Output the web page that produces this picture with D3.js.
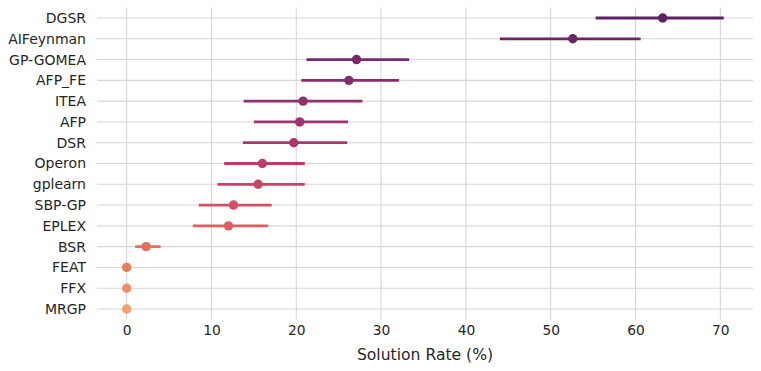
<!DOCTYPE html>
<html><head><meta charset="utf-8">
<script src="https://cdn.jsdelivr.net/npm/d3@7"></script>
<style>body{margin:0;background:#fff;} text{font-family:"DejaVu Sans",sans-serif;fill:#262626;}</style>
</head><body>
<svg id="c" width="761" height="371"></svg>
<script>
const categories = ["DGSR","AIFeynman","GP-GOMEA","AFP_FE","ITEA","AFP","DSR","Operon","gplearn","SBP-GP","EPLEX","BSR","FEAT","FFX","MRGP"];
const means   = [63.2, 52.6, 27.1, 26.2, 20.8, 20.4, 19.7, 16.0, 15.5, 12.6, 12.0, 2.3, 0.0, 0.0, 0.0];
const ciLow   = [55.3, 44.0, 21.2, 20.6, 13.8, 15.0, 13.7, 11.5, 10.7, 8.5, 7.8, 1.0, 0.0, 0.0, 0.0];
const ciHigh  = [70.4, 60.6, 33.3, 32.1, 27.8, 26.1, 26.0, 21.0, 21.0, 17.1, 16.7, 4.0, 0.0, 0.0, 0.0];
const xTicks  = [0, 10, 20, 30, 40, 50, 60, 70];
const xLabel  = "Solution Rate (%)";
const palette = ["#5c2263","#6a2667","#78296a","#862c6c","#942f6d","#a1326e","#af356d","#bd3a6b","#c94366","#d44f62","#de5e5f","#e46f5d","#e8805f","#eb9166","#eea273"];

const svg = d3.select("#c");
const m = {left: 97, right: 753, top: 7.6, bottom: 319.4};
const x = d3.scaleLinear().domain([-3.5, 73.85]).range([m.left, m.right]);
const y = d3.scalePoint().domain(categories).range([18, 309]);

// grid
svg.append("g").selectAll("line.v").data(xTicks).join("line")
  .attr("x1", d => x(d)).attr("x2", d => x(d)).attr("y1", m.top).attr("y2", m.bottom)
  .attr("stroke", "#d6d6d6").attr("stroke-width", 1.1);
svg.append("g").selectAll("line.h").data(categories).join("line")
  .attr("x1", m.left).attr("x2", m.right).attr("y1", d => y(d)).attr("y2", d => y(d))
  .attr("stroke", "#d6d6d6").attr("stroke-width", 1.1);

// axes
const xa = svg.append("g").attr("transform", `translate(0,${m.bottom})`)
  .call(d3.axisBottom(x).tickValues(xTicks).tickSize(0).tickPadding(6));
xa.select(".domain").remove();
xa.selectAll("text").attr("font-size", 13.8).style("font-family", "DejaVu Sans").attr("fill", "#262626");
const ya = svg.append("g").attr("transform", `translate(${m.left},0)`)
  .call(d3.axisLeft(y).tickSize(0).tickPadding(11));
ya.select(".domain").remove();
ya.selectAll("text").attr("font-size", 14).style("font-family", "DejaVu Sans").attr("fill", "#262626");

svg.append("text").attr("x", (m.left + m.right) / 2).attr("y", 359.5)
  .attr("text-anchor", "middle").attr("font-size", 15.6).text(xLabel);

// error bars + points
const data = categories.map((c, i) => ({c, mean: means[i], lo: ciLow[i], hi: ciHigh[i], col: palette[i]}));
svg.append("g").selectAll("line").data(data.filter(d => d.hi > d.lo)).join("line")
  .attr("x1", d => x(d.lo)).attr("x2", d => x(d.hi))
  .attr("y1", d => y(d.c)).attr("y2", d => y(d.c))
  .attr("stroke", d => d.col).attr("stroke-width", 2.8);
svg.append("g").selectAll("circle").data(data).join("circle")
  .attr("cx", d => x(d.mean)).attr("cy", d => y(d.c)).attr("r", 4.7)
  .attr("fill", d => d.col);
</script>
</body></html>
